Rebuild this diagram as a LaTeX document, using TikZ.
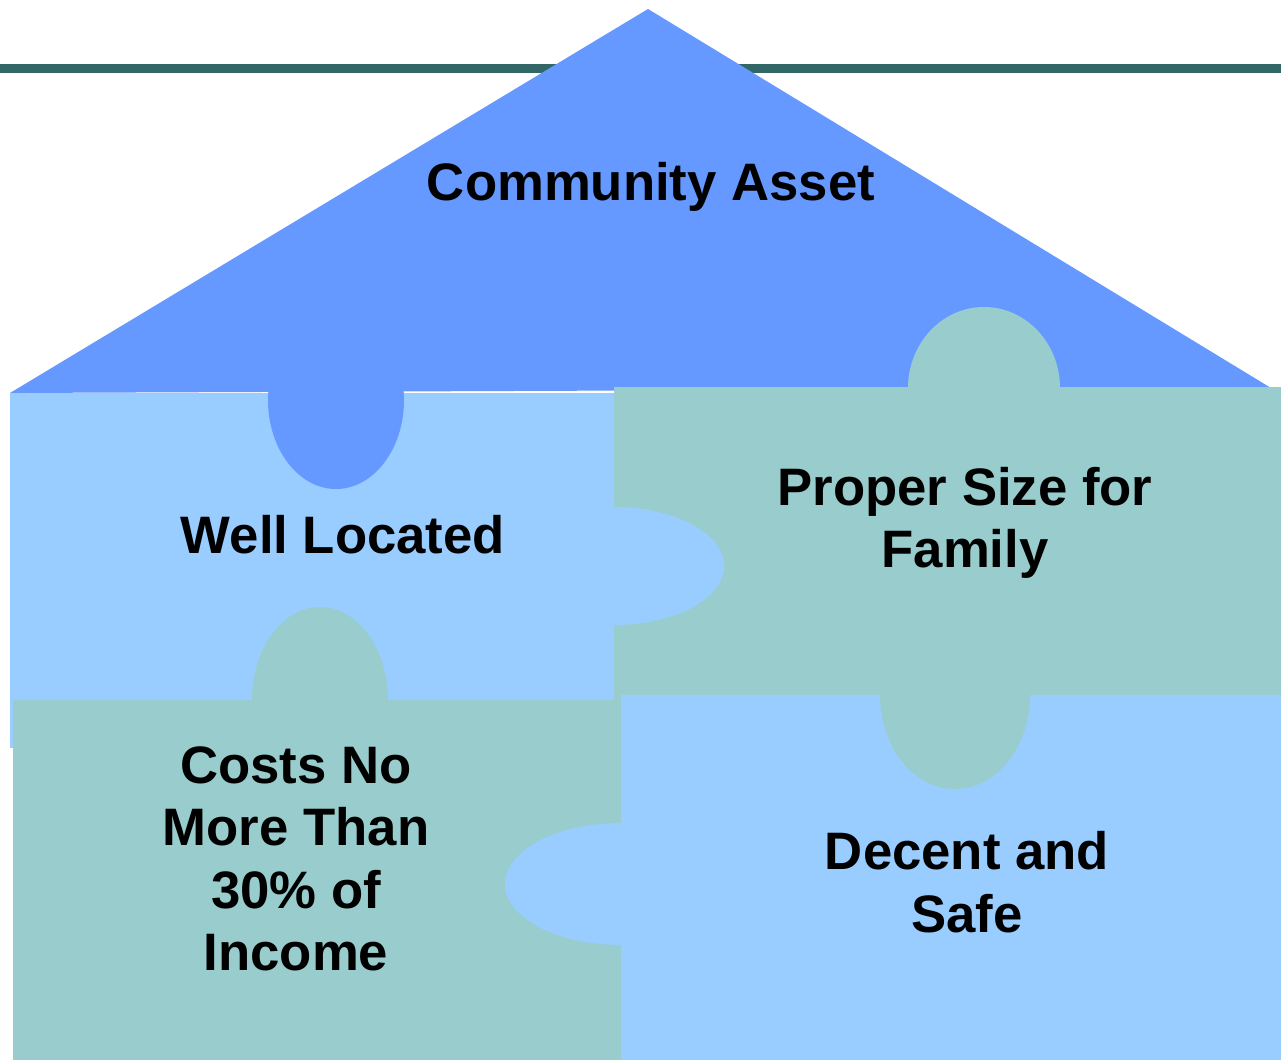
\documentclass[tikz,border=0pt]{standalone}
\usepackage{fontspec}
\setmainfont{Liberation Sans}
\usetikzlibrary{shapes}
\definecolor{roofblue}{HTML}{6699FF}
\definecolor{skyblue}{HTML}{99CCFF}
\definecolor{seagreen}{HTML}{99CCCC}
\definecolor{ruleline}{HTML}{336666}
\tikzstyle{piecetext} = [align=center, font=\bfseries\fontsize{30}{35.5}\selectfont]

\begin{document}
\begin{tikzpicture}[x=0.02cm, y=-0.02cm]
		\useasboundingbox (0,0) rectangle (1281,1060);
		\def\midx{614}
		\def\midy{695}
		% top rule and roof
		\fill[ruleline] (0,64) rectangle (1281,73);
		\fill[roofblue] (10,393) -- (648,9) -- (1271,388) -- cycle;
		
		% the four pieces
		\fill[skyblue] (10,393) rectangle (\midx,748);
		\fill[seagreen] (\midx,387) rectangle (1281,700);
		\fill[seagreen] (13,700) rectangle (621,1060);
		\fill[skyblue] (621,\midy) rectangle (1281,1060);
		
		% tabs and notches
		\fill[roofblue] (336,400) ellipse [x radius=68, y radius=89];
		\fill[seagreen] (984,388) ellipse [x radius=76, y radius=81];
		\fill[seagreen] (955,\midy) ellipse [x radius=75, y radius=94];
		\fill[skyblue] (\midx,566) ellipse [x radius=110, y radius=59];
		\fill[seagreen] (320,700) ellipse [x radius=68, y radius=93];
		\fill[skyblue] (621,884) ellipse [x radius=116, y radius=61];
		
		\node[piecetext] (asset) at (651,187) {Community Asset};
		\node[piecetext] (located) at (343,535) {Well Located};
		\node[piecetext] (size) at (965,523) {Proper Size for\\Family};
		\node[piecetext] (costs) at (296,859) {Costs No\\More Than\\30\% of\\Income};
		\node[piecetext] (decent) at (967,882) {Decent and\\Safe};
	\end{tikzpicture}
\end{document}
